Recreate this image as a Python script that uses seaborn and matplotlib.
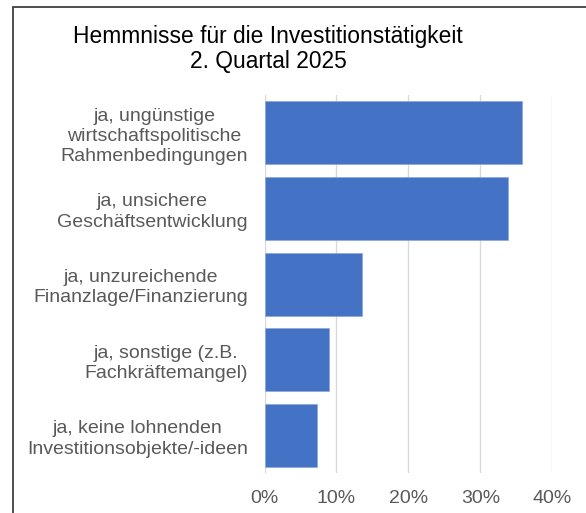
import matplotlib
matplotlib.use("Agg")
import matplotlib.pyplot as plt
import seaborn as sns
import pandas as pd
from matplotlib.patches import Rectangle
from matplotlib.ticker import FuncFormatter

categories = [
    "ja, ungünstige\nwirtschaftspolitische\nRahmenbedingungen",
    "ja, unsichere\nGeschäftsentwicklung",
    "ja, unzureichende\nFinanzlage/Finanzierung",
    "ja, sonstige (z.B.\nFachkräftemangel)",
    "ja, keine lohnenden\nInvestitionsobjekte/-ideen",
]
values = [35.8, 33.9, 13.6, 8.9, 7.3]
xticks = [0, 10, 20, 30, 40]
title_lines = ["Hemmnisse für die Investitionstätigkeit", "2. Quartal 2025"]

sns.set_theme(style="white")
plt.rcParams["font.family"] = ["Liberation Sans", "DejaVu Sans"]

W, H = 586, 513
fig = plt.figure(figsize=(W / 100, H / 100), dpi=100)
ax = fig.add_axes([264.5 / W, 1 - 473.3 / H, (552.3 - 264.5) / W, (473.3 - 95) / H])

df = pd.DataFrame({"cat": categories, "val": values})
sns.barplot(data=df, x="val", y="cat", orient="h", color="#4472C4", saturation=1,
            width=0.83, edgecolor="#8FA9DC", linewidth=0.6, ax=ax, zorder=3)

ax.set_xlim(0, 40)
ax.set_ylim(4.5, -0.5)
ax.set_xticks(xticks)
ax.xaxis.set_major_formatter(FuncFormatter(lambda v, p: f"{v:.0f}%"))
ax.grid(axis="x", color="#D9D9D9", linewidth=1, zorder=0)
ax.grid(axis="y", visible=False)
for s in ax.spines.values():
    s.set_visible(False)
ax.set_xlabel("")
ax.set_ylabel("")
ax.tick_params(axis="x", length=0, pad=12, labelsize=14, labelcolor="#595959")
ax.tick_params(axis="y", length=0, pad=12, labelsize=14, labelcolor="#595959")
for lab in ax.get_yticklabels():
    lab.set_multialignment("center")
    lab.set_linespacing(1.24)

fig.text(268 / W, 1 - 43 / H, title_lines[0], ha="center", va="baseline", fontsize=16.4, color="black")
fig.text(268 / W, 1 - 68 / H, title_lines[1], ha="center", va="baseline", fontsize=16.4, color="black")

border = Rectangle((13 / W, -0.1), 1.2, 1.1 - 7 / H, transform=fig.transFigure,
                   fill=False, edgecolor="#404040", linewidth=1.3, clip_on=False)
fig.patches.append(border)

fig.savefig("out.png", dpi=100)
